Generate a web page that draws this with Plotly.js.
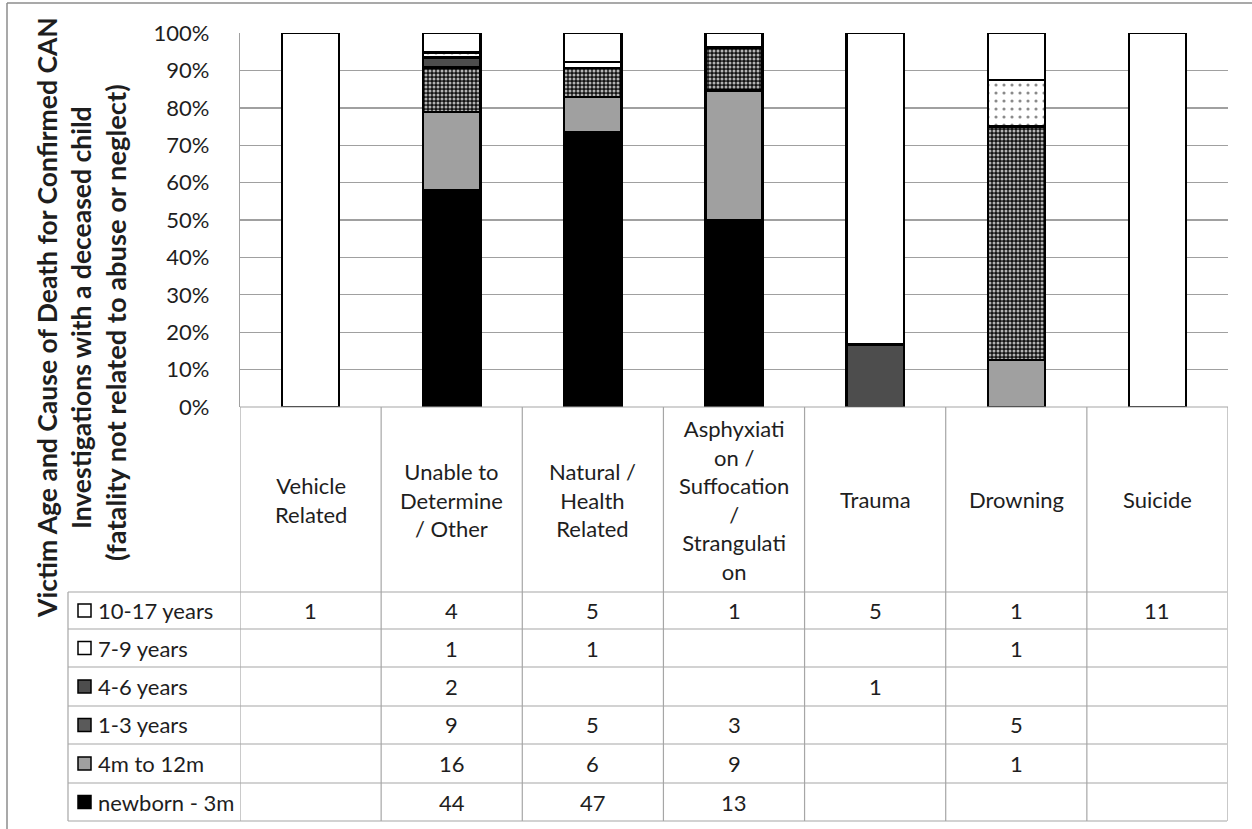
<!DOCTYPE html>
<html>
<head>
<meta charset="utf-8">
<script src="https://cdn.plot.ly/plotly-3.0.1.min.js"></script>
<style>
html,body{margin:0;padding:0;background:#fff;}
#chart{width:1252px;height:829px;}
</style>
</head>
<body>
<div id="chart"></div>
<script>
// ---------------- DATA ----------------
const categories = ['Vehicle Related','Unable to Determine / Other','Natural / Health Related','Asphyxiation / Suffocation / Strangulation','Trauma','Drowning','Suicide'];
const categoryLabels = ['Vehicle<br>Related','Unable to<br>Determine<br>/ Other','Natural /<br>Health<br>Related','Asphyxiati<br>on /<br>Suffocation<br>/<br>Strangulati<br>on','Trauma','Drowning','Suicide'];
const ageGroups = ['10-17 years','7-9 years','4-6 years','1-3 years','4m to 12m','newborn - 3m'];
const age10to17 = [1,4,5,1,5,1,11];
const age7to9   = [null,1,1,null,null,1,null];
const age4to6   = [null,2,null,null,1,null,null];
const age1to3   = [null,9,5,3,null,5,null];
const age4mto12m= [null,16,6,9,null,1,null];
const ageNewborn= [null,44,47,13,null,null,null];
const yTicks = [0,10,20,30,40,50,60,70,80,90,100];
const titleLines = ['Victim Age and Cause of Death for Confirmed CAN','Investigations with a deceased child','(fatality not related to abuse or neglect)'];

// rows of table (top to bottom)
const tableRows = [age10to17, age7to9, age4to6, age1to3, age4mto12m, ageNewborn];

// ---------------- STYLES ----------------
const W = 1252, H = 829;
const plotL = 240, plotR = 1228, plotT = 33, plotB = 407;
const px = x => (x - plotL) / (plotR - plotL);
const py = y => (plotB - y) / (plotB - plotT);
const FONT = 'Lato, "Open Sans", sans-serif';
const TXT = '#1e1e1e';
const GRID = '#a0a0a0';
const TABLE = '#a6a6a6';
const outline = {color:'#000', width:2.4};
const TFS = 22;

const styles = {
  '10-17 years': {color:'#ffffff'},
  '7-9 years': {color:'#ffffff', pattern:{shape:'.', fillmode:'replace', bgcolor:'#ffffff', fgcolor:'#8a8a8a', size:8, solidity:0.12}},
  '4-6 years': {color:'#4d4d4d'},
  '1-3 years': {color:'#555555', pattern:{shape:'.', fillmode:'replace', bgcolor:'#141414', fgcolor:'#b4b4b4', size:4, solidity:0.45}},
  '4m to 12m': {color:'#a0a0a0'},
  'newborn - 3m': {color:'#000000'}
};
const seriesMap = {
  '10-17 years': age10to17, '7-9 years': age7to9, '4-6 years': age4to6,
  '1-3 years': age1to3, '4m to 12m': age4mto12m, 'newborn - 3m': ageNewborn
};

// stack bottom -> top
const stackOrder = ['newborn - 3m','4m to 12m','1-3 years','4-6 years','7-9 years','10-17 years'];
const traces = stackOrder.map(name => {
  const st = styles[name];
  const marker = {color: st.color, line: outline};
  if (st.pattern) marker.pattern = st.pattern;
  return {type:'bar', name:name, x:categories, y:seriesMap[name], marker:marker, hoverinfo:'skip'};
});

// ---------------- TABLE (shapes + annotations) ----------------
const shapes = [];
const annotations = [];
const headerTop = 407, headerBottom = 592;
const rowBounds = [592, 629, 667, 706, 744, 783, 821];
const tableLeft = 68, tableRight = 1227;

// outer frame lines
shapes.push({type:'line', xref:'paper', yref:'paper', x0:px(7), x1:px(W), y0:py(3), y1:py(3), line:{color:'#8c8c8c', width:1.5}});
shapes.push({type:'line', xref:'paper', yref:'paper', x0:px(7), x1:px(7), y0:py(3), y1:py(H), line:{color:'#8c8c8c', width:1.5}});

// vertical column boundaries
for (let i = 0; i <= categories.length; i++) {
  shapes.push({type:'line', xref:'x', yref:'paper', x0:i-0.5, x1:i-0.5, y0:py(headerTop), y1:py(rowBounds[rowBounds.length-1]), line:{color:TABLE, width:1.2}});
}
// left column vertical
shapes.push({type:'line', xref:'paper', yref:'paper', x0:px(tableLeft), x1:px(tableLeft), y0:py(headerBottom), y1:py(rowBounds[rowBounds.length-1]), line:{color:TABLE, width:1.2}});
// header top line
shapes.push({type:'line', xref:'x', yref:'paper', x0:-0.5, x1:categories.length-0.5, y0:py(headerTop), y1:py(headerTop), line:{color:TABLE, width:1.2}});
// row lines
rowBounds.forEach(b => {
  shapes.push({type:'line', xref:'paper', yref:'paper', x0:px(tableLeft), x1:px(tableRight), y0:py(b), y1:py(b), line:{color:TABLE, width:1.2}});
});

// header labels
categories.forEach((c, i) => {
  annotations.push({xref:'x', yref:'paper', x:c, y:py((headerTop+headerBottom)/2), text:categoryLabels[i], showarrow:false,
    font:{family:FONT, size:TFS, color:TXT}, align:'center', xanchor:'center', yanchor:'middle'});
});

// rows
ageGroups.forEach((g, r) => {
  const yc = (rowBounds[r] + rowBounds[r+1]) / 2;
  const st = styles[g];
  shapes.push({type:'rect', xref:'paper', yref:'paper', x0:px(78), x1:px(91), y0:py(yc-6.5), y1:py(yc+6.5),
    fillcolor: st.pattern ? (g === '1-3 years' ? '#5a5a5a' : '#ffffff') : st.color, line:{color:'#000', width:1.5}});
  annotations.push({xref:'paper', yref:'paper', x:px(96), y:py(yc), text:g, showarrow:false, xanchor:'left', yanchor:'middle',
    font:{family:FONT, size:TFS, color:TXT}});
  tableRows[r].forEach((v, i) => {
    if (v === null) return;
    annotations.push({xref:'x', yref:'paper', x:categories[i], y:py(yc), text:String(v), showarrow:false, xanchor:'center', yanchor:'middle',
      font:{family:FONT, size:TFS, color:TXT}});
  });
});

// y-axis title (three lines)
const titleX = [47, 81, 115];
const titleY = [318, 318, 323];
const titleSize = [26.5, 26.5, 27.3];
titleLines.forEach((t, i) => {
  annotations.push({xref:'paper', yref:'paper', x:px(titleX[i]), y:py(titleY[i]), text:'<b>'+t+'</b>', textangle:-90, showarrow:false,
    xanchor:'center', yanchor:'middle', font:{family:FONT, size:titleSize[i], color:TXT}});
});

const layout = {
  width:W, height:H,
  margin:{l:plotL, r:W-plotR, t:plotT, b:H-plotB, pad:0},
  paper_bgcolor:'#fff', plot_bgcolor:'#fff',
  barmode:'stack', barnorm:'percent', bargap:0.595,
  showlegend:false,
  xaxis:{type:'category', showticklabels:false, ticks:'', showgrid:false, zeroline:false, showline:false, fixedrange:true, range:[-0.5, categories.length-0.5]},
  yaxis:{range:[0,100], tickvals:yTicks, ticktext:yTicks.map(v=>v+'%'), showgrid:true, gridcolor:GRID, gridwidth:1.4,
    zeroline:false, showline:true, linecolor:GRID, linewidth:1.3, ticks:'', ticklen:0, ticklabelstandoff:25,
    tickfont:{family:FONT, size:22, color:TXT}, fixedrange:true},
  shapes:shapes, annotations:annotations
};

Plotly.newPlot('chart', traces, layout, {displayModeBar:false, staticPlot:true});
</script>
</body>
</html>
